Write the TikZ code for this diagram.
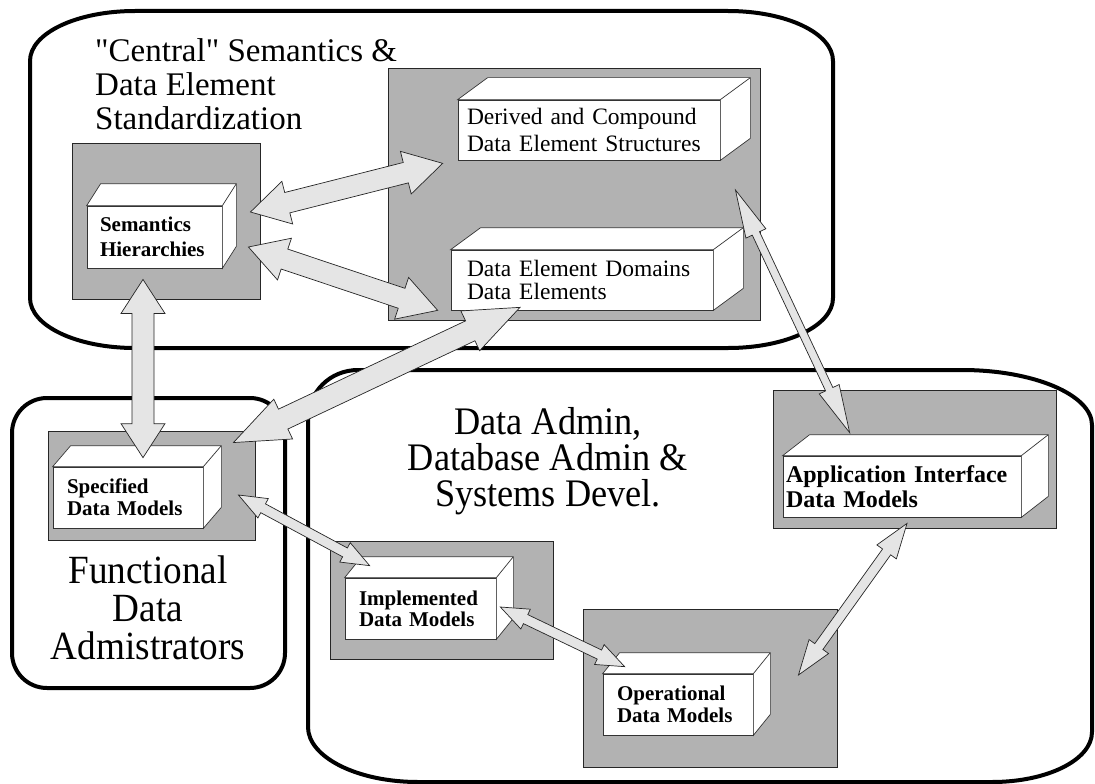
\documentclass[tikz,border=0pt]{standalone}
\usepackage{fontspec}
\setmainfont{Liberation Serif}
\newfontfamily\narrowfont[FakeStretch=0.93]{Liberation Serif}
\usetikzlibrary{calc}
\definecolor{panelgray}{gray}{0.70}
\definecolor{arrowgray}{gray}{0.90}
\tikzset{
  region/.style={line width=4pt, line join=round},
  panel/.style={draw=black!85, line width=0.9pt, fill=panelgray, inner sep=0pt},
  face/.style={draw=black!80, line width=0.7pt, fill=white},
  front/.style={face, align=left, inner ysep=0pt, minimum height=61pt},
  fat/.style={draw=black!85, line width=0.7pt, fill=arrowgray, line join=miter},
}
% top and right faces of a box node
\newcommand\sides[3]{
  \draw [face] (#1.north west) -- ++(#2,#3) -- ($(#1.north east)+(#2,#3)$)
    -- ($(#1.south east)+(#2,#3)$) -- (#1.south east) -- (#1.north east) -- cycle;
  \draw [face] (#1.north east) -- ++(#2,#3);
}
% fat double arrow: tip, tip, half shaft, half head, head length
\newcommand\twoway[5]{
  \coordinate (ta) at (#1);
  \coordinate (tb) at (#2);
  \draw [fat] (ta)
    -- ($(ta)!#5pt!(tb)!#4pt!90:(tb)$)
    -- ($(ta)!#5pt!(tb)!#3pt!90:(tb)$)
    -- ($(tb)!#5pt!(ta)!#3pt!-90:(ta)$)
    -- ($(tb)!#5pt!(ta)!#4pt!-90:(ta)$)
    -- (tb)
    -- ($(tb)!#5pt!(ta)!#4pt!90:(ta)$)
    -- ($(tb)!#5pt!(ta)!#3pt!90:(ta)$)
    -- ($(ta)!#5pt!(tb)!#3pt!-90:(tb)$)
    -- ($(ta)!#5pt!(tb)!#4pt!-90:(tb)$)
    -- cycle;
}

\begin{document}
\begin{tikzpicture}[x=1pt, y=-1pt]
  \useasboundingbox (0,0) rectangle (1095,784);

  % the three areas
  \draw [region] (30,61) .. controls (30,33) and (77,11) .. (135,11) -- (728,11)
    .. controls (786,11) and (833,33) .. (833,61) -- (833,298)
    .. controls (833,326) and (786,348) .. (728,348) -- (135,348)
    .. controls (77,348) and (30,326) .. (30,298) -- cycle;
  \draw [region, rounded corners=35pt] (12,398) rectangle (285,688);
  \draw [region] (308,420) .. controls (308,392) and (330,370) .. (358,370) -- (962,370)
    .. controls (1034,370) and (1092,395) .. (1092,425) -- (1092,732)
    .. controls (1092,760) and (1047,782) .. (992,782) -- (418,782)
    .. controls (357,782) and (308,757) .. (308,727) -- cycle;

  % grey panels
  \node [panel, minimum width=188pt, minimum height=156pt] (semgray) at (166,221) {};
  \node [panel, minimum width=372pt, minimum height=252pt] (elemgray) at (574,194) {};
  \node [panel, minimum width=207pt, minimum height=109pt] (specgray) at (151.5,485.5) {};
  \node [panel, minimum width=223pt, minimum height=118pt] (implgray) at (441.5,600) {};
  \node [panel, minimum width=254pt, minimum height=158pt] (opgray) at (710,688) {};
  \node [panel, minimum width=283pt, minimum height=138pt] (appgray) at (914.5,459) {};

  % boxes
  \node [front, text width=109pt, inner xsep=13pt, minimum height=62pt,
    font=\fontsize{21}{25}\selectfont\bfseries] (sem) at (154.5,237) {Semantics\\Hierarchies};
  \sides{sem}{14}{-22}
  \node [front, text width=244pt, inner xsep=9pt, minimum height=60pt,
    font=\fontsize{23.5}{27}\selectfont] (derived) at (589,130) {Derived and Compound\\Data Element Structures};
  \sides{derived}{30}{-22}
  \node [front, text width=230pt, inner xsep=16pt, minimum height=60pt,
    font=\fontsize{23.5}{23}\selectfont] (domains) at (582,280) {Data Element Domains\\Data Elements};
  \sides{domains}{30}{-22}
  \node [front, text width=122pt, inner xsep=14pt,
    font=\fontsize{21}{22}\selectfont\bfseries] (spec) at (128,497.5) {Specified\\Data Models};
  \sides{spec}{18}{-21}
  \node [front, text width=123pt, inner xsep=14pt,
    font=\fontsize{21}{21}\selectfont\bfseries] (impl) at (420.5,608.5) {Implemented\\Data Models};
  \sides{impl}{17}{-21}
  \node [front, text width=122pt, inner xsep=14pt,
    font=\fontsize{21}{22}\selectfont\bfseries] (oper) at (678,704.5) {Operational\\Data Models};
  \sides{oper}{17}{-21}
  \node [front, text width=232pt, inner xsep=3pt,
    font=\fontsize{24}{25}\selectfont\bfseries] (app) at (902,486.5) {Application Interface\\Data Models};
  \sides{app}{27}{-21}

  % area titles
  \node [font=\fontsize{33}{34}\selectfont, align=left, anchor=west, inner sep=0pt]
    (central) at (95,84) {\textquotedbl Central\textquotedbl{} Semantics \&\\Data Element\\Standardization};
  \node [font=\narrowfont\fontsize{39}{36}\selectfont, align=center, inner sep=0pt]
    (admin) at (548,461) {Data Admin,\\Database Admin \&\\Systems Devel.};
  \node [font=\narrowfont\fontsize{40}{38}\selectfont, align=center, inner sep=0pt]
    (functional) at (148,608) {Functional\\Data\\Admistrators};

  % arrows
  \twoway{$(semgray.east)+(-10,-9)$}{$(derived.south west)+(-15,3)$}{10.5}{22}{38}
  \twoway{$(semgray.east)+(-12,26)$}{$(domains.south west)+(-13,0)$}{10.5}{22}{38}
  \twoway{$(semgray.south)+(-23,-20)$}{$(spec.north)+(15,-9)$}{11}{22}{34}
  \twoway{$(domains.south)+(-62,-3)$}{$(specgray.north east)+(-22,12)$}{11}{22}{55}
  \twoway{$(elemgray.east)+(-25,-4)$}{$(app.north west)+(67,-23)$}{4}{11}{48}
  \twoway{$(specgray.east)+(-17,9.5)$}{$(impl.north west)+(25,-12)$}{5}{11}{28}
  \twoway{$(impl.east)+(4,-1.5)$}{$(oper.north west)+(22,-7)$}{5}{11}{28}
  \twoway{$(appgray.south)+(-7.5,-5)$}{$(opgray.east)+(-39,-13)$}{5}{12}{35}
\end{tikzpicture}
\end{document}
